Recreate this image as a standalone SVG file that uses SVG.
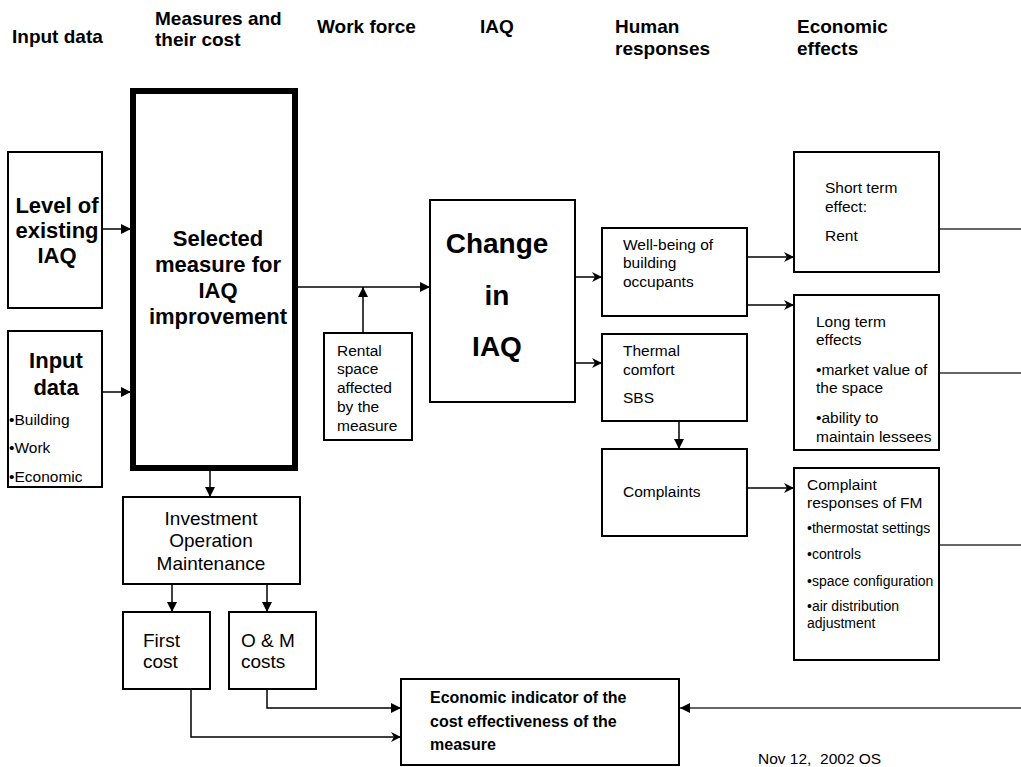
<svg xmlns="http://www.w3.org/2000/svg" width="1021" height="767" viewBox="0 0 1021 767">
<style>
text{font-family:"Liberation Sans",Arial,sans-serif;fill:#000}
.hd{font-size:19px;font-weight:bold}
.big{font-size:22px;font-weight:bold}
.huge{font-size:28px;font-weight:bold}
.t{font-size:15.5px}
.s{font-size:14px}
.m{font-size:19px}
.eb{font-size:16px;font-weight:bold}
.box{fill:#fff;stroke:#000;stroke-width:2}
.thick{fill:#fff;stroke:#000;stroke-width:6}
.c{fill:none;stroke:#000;stroke-width:1.5}
.g{fill:none;stroke:#333;stroke-width:1.5}
.mid{text-anchor:middle}
</style>
<defs>
<marker id="tri" markerUnits="userSpaceOnUse" markerWidth="12" markerHeight="12" refX="11" refY="6" orient="auto">
<path d="M1,1 L11,6 L1,11 z" fill="#000"/>
</marker>
<marker id="st" markerUnits="userSpaceOnUse" markerWidth="12" markerHeight="12" refX="11" refY="6" orient="auto">
<path d="M1,1 L11,6 L1,11 L4,6 z" fill="#000"/>
</marker>
</defs>
<rect width="1021" height="767" fill="#fff"/>

<g id="headers">
<text class="hd" x="12" y="43">Input data</text>
<text class="hd" x="155" y="25">Measures and</text>
<text class="hd" x="155" y="46">their cost</text>
<text class="hd" x="317" y="33">Work force</text>
<text class="hd" x="480" y="33">IAQ</text>
<text class="hd" x="615" y="33">Human</text>
<text class="hd" x="615" y="55">responses</text>
<text class="hd" x="797" y="33">Economic</text>
<text class="hd" x="797" y="55">effects</text>
</g>

<g id="connectors">
<line class="c" x1="103" y1="229" x2="131" y2="229" marker-end="url(#tri)"/>
<line class="c" x1="95" y1="392" x2="131" y2="392" marker-end="url(#tri)"/>
<line class="c" x1="298" y1="287" x2="430" y2="287" marker-end="url(#tri)"/>
<line class="c" x1="363" y1="333" x2="363" y2="287" marker-end="url(#tri)"/>
<line class="c" x1="575" y1="277" x2="602" y2="277" marker-end="url(#st)"/>
<line class="c" x1="575" y1="363" x2="602" y2="363" marker-end="url(#st)"/>
<line class="c" x1="747" y1="257" x2="794" y2="257" marker-end="url(#st)"/>
<line class="c" x1="747" y1="305" x2="794" y2="305" marker-end="url(#st)"/>
<line class="c" x1="679" y1="421" x2="679" y2="449" marker-end="url(#tri)"/>
<line class="c" x1="747" y1="488" x2="794" y2="488" marker-end="url(#st)"/>
<line class="c" x1="210" y1="471" x2="210" y2="497" marker-end="url(#tri)"/>
<line class="c" x1="172" y1="584" x2="172" y2="612" marker-end="url(#tri)"/>
<line class="c" x1="267" y1="584" x2="267" y2="612" marker-end="url(#tri)"/>
<polyline class="c" points="267,689 267,708 401,708" marker-end="url(#tri)"/>
<polyline class="c" points="191,689 191,737 401,737" marker-end="url(#st)"/>
<line class="g" x1="939" y1="229" x2="1021" y2="229"/>
<line class="g" x1="939" y1="373" x2="1021" y2="373"/>
<line class="g" x1="939" y1="545" x2="1021" y2="545"/>
<line class="g" x1="1021" y1="708" x2="680" y2="708" marker-end="url(#tri)"/>
</g>

<g id="level">
<rect class="box" x="8" y="152" width="94" height="156"/>
<text class="big mid" x="57" y="213">Level of</text>
<text class="big mid" x="57" y="238">existing</text>
<text class="big mid" x="57" y="263">IAQ</text>
</g>

<g id="input">
<rect class="box" x="8" y="331" width="94" height="156"/>
<text class="big mid" x="56" y="368">Input</text>
<text class="big mid" x="56" y="395">data</text>
<text class="t" x="9" y="425">•Building</text>
<text class="t" x="9" y="453">•Work</text>
<text class="t" x="9" y="482">•Economic</text>
</g>

<g id="selected">
<rect class="thick" x="133" y="91" width="162" height="377"/>
<text class="big mid" x="218" y="246">Selected</text>
<text class="big mid" x="218" y="272">measure for</text>
<text class="big mid" x="218" y="298">IAQ</text>
<text class="big mid" x="218" y="324">improvement</text>
</g>

<g id="rental">
<rect class="box" x="324" y="333" width="88" height="107"/>
<text class="t" x="337" y="356">Rental</text>
<text class="t" x="337" y="374">space</text>
<text class="t" x="337" y="393">affected</text>
<text class="t" x="337" y="412">by the</text>
<text class="t" x="337" y="431">measure</text>
</g>

<g id="change">
<rect class="box" x="430" y="200" width="145" height="202"/>
<text class="huge mid" x="497" y="253">Change</text>
<text class="huge mid" x="497" y="305">in</text>
<text class="huge mid" x="497" y="356">IAQ</text>
</g>

<g id="wellbeing">
<rect class="box" x="602" y="228" width="145" height="88"/>
<text class="t" x="623" y="250">Well-being of</text>
<text class="t" x="623" y="268">building</text>
<text class="t" x="623" y="287">occupants</text>
</g>

<g id="thermal">
<rect class="box" x="602" y="334" width="145" height="87"/>
<text class="t" x="623" y="356">Thermal</text>
<text class="t" x="623" y="375">comfort</text>
<text class="t" x="623" y="403">SBS</text>
</g>

<g id="complaints">
<rect class="box" x="602" y="449" width="145" height="87"/>
<text class="t" x="623" y="497">Complaints</text>
</g>

<g id="shortterm">
<rect class="box" x="794" y="152" width="145" height="120"/>
<text class="t" x="825" y="193">Short term</text>
<text class="t" x="825" y="212">effect:</text>
<text class="t" x="825" y="241">Rent</text>
</g>

<g id="longterm">
<rect class="box" x="794" y="295" width="145" height="155"/>
<text class="t" x="816" y="327">Long term</text>
<text class="t" x="816" y="345">effects</text>
<text class="t" x="816" y="375">•market value of</text>
<text class="t" x="816" y="393">the space</text>
<text class="t" x="816" y="423">•ability to</text>
<text class="t" x="816" y="442">maintain lessees</text>
</g>

<g id="complaintresp">
<rect class="box" x="794" y="468" width="145" height="192"/>
<text class="t" x="807" y="490">Complaint</text>
<text class="t" x="807" y="508">responses of FM</text>
<text class="s" x="807" y="533">•thermostat settings</text>
<text class="s" x="807" y="559">•controls</text>
<text class="s" x="807" y="586">•space configuration</text>
<text class="s" x="807" y="611">•air distribution</text>
<text class="s" x="807" y="628">adjustment</text>
</g>

<g id="investment">
<rect class="box" x="123" y="497" width="177" height="87"/>
<text class="m mid" x="211" y="525">Investment</text>
<text class="m mid" x="211" y="547">Operation</text>
<text class="m mid" x="211" y="570">Maintenance</text>
</g>

<g id="firstcost">
<rect class="box" x="123" y="612" width="87" height="77"/>
<text class="m" x="143" y="647">First</text>
<text class="m" x="143" y="668">cost</text>
</g>

<g id="omcosts">
<rect class="box" x="229" y="612" width="87" height="77"/>
<text class="m" x="241" y="647">O &amp; M</text>
<text class="m" x="241" y="668">costs</text>
</g>

<g id="indicator">
<rect class="box" x="401" y="679" width="278" height="86"/>
<text class="eb" x="430" y="703">Economic indicator of the</text>
<text class="eb" x="430" y="727">cost effectiveness of the</text>
<text class="eb" x="430" y="750">measure</text>
</g>

<text class="t" x="758" y="764">Nov 12,&#160; 2002 OS</text>
</svg>
